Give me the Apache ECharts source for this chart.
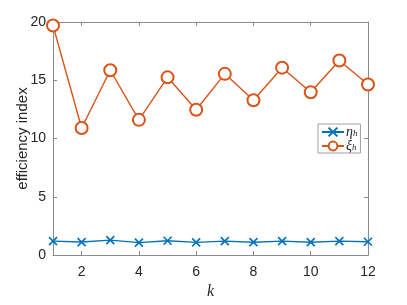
<!DOCTYPE html>
<html><head><meta charset="utf-8">
<script src="https://cdn.jsdelivr.net/npm/echarts@6/dist/echarts.min.js"></script>
<style>html,body{margin:0;padding:0;background:#fff}#c{width:407px;height:305px}</style>
</head><body><div id="c"></div>
<script>
const kValues = [1,2,3,4,5,6,7,8,9,10,11,12];
const etaValues = [1.19,1.11,1.28,1.06,1.22,1.08,1.19,1.10,1.19,1.10,1.19,1.14];
const xiValues = [19.7,10.9,15.86,11.6,15.25,12.47,15.55,13.28,16.08,13.97,16.7,14.64];
const xTicks = [2,4,6,8,10,12];
const yTicks = [0,5,10,15,20];
const seriesNames = ['eta','xi'];
const legendLabels = {eta:['η','h'], xi:['ξ','h']};

const axisColor = '#8a8a8a';
const textColor = '#262626';
const font = 'Liberation Sans';

function xAxisBase(pos, show){
  return {type:'value', position:pos, min:1, max:12,
    axisLine:{show:true, onZero:false, lineStyle:{color:axisColor,width:1}},
    axisTick:{show:true, inside:true, length:4, customValues:xTicks, lineStyle:{color:axisColor}},
    axisLabel:{show:show, customValues:xTicks, color:textColor, fontFamily:font, fontSize:14, margin:10},
    splitLine:{show:false}};
}
function yAxisBase(pos, show){
  return {type:'value', position:pos, min:0, max:20, interval:5,
    axisLine:{show:true, onZero:false, lineStyle:{color:axisColor,width:1}},
    axisTick:{show:true, inside:true, length:4, lineStyle:{color:axisColor}},
    axisLabel:{show:show, color:textColor, fontFamily:font, fontSize:14, margin:7},
    splitLine:{show:false}};
}
const xb = xAxisBase('bottom', true);
xb.name = 'k'; xb.nameLocation = 'middle'; xb.nameGap = 29; xb.nameMoveOverlap = false;
xb.nameTextStyle = {fontFamily:'Liberation Serif', fontStyle:'italic', fontSize:16, color:textColor};
const yl = yAxisBase('left', true);
yl.name = 'efficiency index'; yl.nameLocation = 'middle'; yl.nameGap = 23; yl.nameMoveOverlap = false;
yl.nameTextStyle = {fontFamily:font, fontSize:15, color:textColor};

const chart = echarts.init(document.getElementById('c'), null, {renderer:'canvas'});
chart.setOption({
  animation:false,
  backgroundColor:'#fff',
  grid:{left:53, right:39, top:22, bottom:43},
  xAxis:[xb, xAxisBase('top', false)],
  yAxis:[yl, yAxisBase('right', false)],
  legend:{
    data:seriesNames, orient:'vertical', left:318, top:124,
    backgroundColor:'#fff', borderColor:'#a0a0a0', borderWidth:1,
    padding:[1,3,0,3], itemGap:0, itemWidth:22, itemHeight:11,
    formatter: n => '{a|'+legendLabels[n][0]+'}{b|'+legendLabels[n][1]+'}',
    textStyle:{color:textColor, padding:[0,0,0,-3], rich:{
      a:{fontFamily:'Liberation Serif', fontStyle:'italic', fontSize:14, color:textColor},
      b:{fontFamily:'Liberation Serif', fontStyle:'italic', fontSize:9, color:textColor, padding:[4,0,0,0]}
    }}
  },
  series:[
    {name:'eta', type:'line', data:kValues.map((k,i)=>[k,etaValues[i]]),
     symbol:'path://M0,0L10,10M10,0L0,10', symbolSize:8,
     lineStyle:{color:'#0072BD', width:1.4},
     itemStyle:{color:'#0072BD', borderColor:'#0072BD', borderWidth:1.6}},
    {name:'xi', type:'line', data:kValues.map((k,i)=>[k,xiValues[i]]),
     symbol:'emptyCircle', symbolSize:12,
     lineStyle:{color:'#D95319', width:1.4},
     itemStyle:{color:'#D95319', borderColor:'#D95319', borderWidth:1.4}}
  ]
});
</script></body></html>
